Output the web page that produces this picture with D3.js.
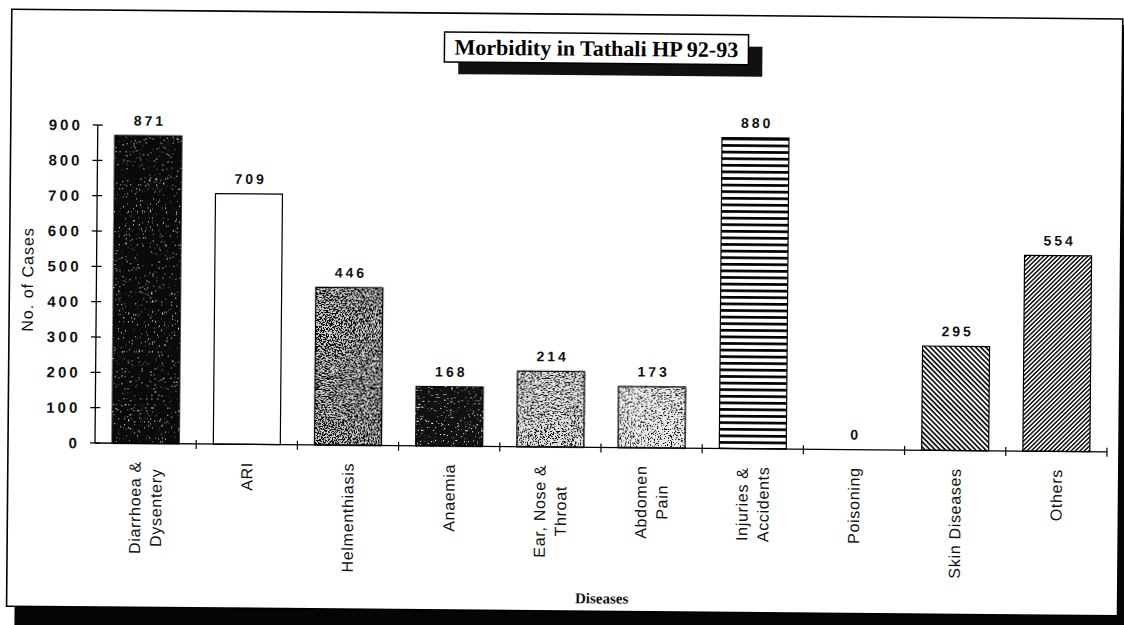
<!DOCTYPE html>
<html>
<head>
<meta charset="utf-8">
<script src="https://cdn.jsdelivr.net/npm/d3@7"></script>
<style>
  html, body { margin: 0; padding: 0; background: #fff; }
  svg { display: block; }
</style>
</head>
<body>
<svg id="chart" width="1124" height="625"></svg>
<script>
// ---------------- data ----------------
const title = "Morbidity in Tathali HP 92-93";
const xTitle = "Diseases";
const yTitle = "No. of Cases";
const categories = [
  "Diarrhoea &\nDysentery",
  "ARI",
  "Helmenthiasis",
  "Anaemia",
  "Ear, Nose &\nThroat",
  "Abdomen\nPain",
  "Injuries &\nAccidents",
  "Poisoning",
  "Skin Diseases",
  "Others"
];
const cases = [871, 709, 446, 168, 214, 173, 880, 0, 295, 554];
const yTicks = [0, 100, 200, 300, 400, 500, 600, 700, 800, 900];

// ---------------- styles (per bar) ----------------
const barFills = ["stipBlack1", "white", "stipDark", "stipBlack2", "stipMid", "stipLight", "hstripe", "white", "hatchBack", "hatchFwd"];

const svg = d3.select("#chart");
const defs = svg.append("defs");

function stipple(id, base, dot, t, freq, seed) {
  const f = defs.append("filter").attr("id", id)
    .attr("x", "-5%").attr("y", "-2%").attr("width", "110%").attr("height", "104%")
    .attr("color-interpolation-filters", "sRGB");
  f.append("feTurbulence").attr("type", "fractalNoise").attr("baseFrequency", freq)
    .attr("numOctaves", 3).attr("seed", seed).attr("result", "n");
  const k = 14;
  f.append("feColorMatrix").attr("in", "n").attr("type", "matrix")
    .attr("values", `0 0 0 0 ${dot} 0 0 0 0 ${dot} 0 0 0 0 ${dot} ${k} 0 0 0 ${-k * t}`)
    .attr("result", "d");
  f.append("feComposite").attr("in", "d").attr("in2", "SourceAlpha").attr("operator", "in").attr("result", "dc");
  const m = f.append("feMerge");
  m.append("feMergeNode").attr("in", "SourceGraphic");
  m.append("feMergeNode").attr("in", "dc");
  return base;
}
const baseColor = {
  stipBlack1: stipple("stipBlack1", "#0a0a0a", 1, 0.70, 0.7, 3),
  stipDark: stipple("stipDark", "#d0d0d0", 0, 0.48, 0.7, 7),
  stipBlack2: stipple("stipBlack2", "#111111", 1, 0.68, 0.7, 11),
  stipMid: stipple("stipMid", "#e2e2e2", 0, 0.54, 0.7, 5),
  stipLight: stipple("stipLight", "#ececec", 0, 0.57, 0.7, 9)
};

// stripe / hatch patterns
const hp = defs.append("pattern").attr("id", "hstripe").attr("patternUnits", "userSpaceOnUse")
  .attr("width", 10).attr("height", 6.6);
hp.append("rect").attr("width", 10).attr("height", 6.6).attr("fill", "#fff");
hp.append("rect").attr("y", 0).attr("width", 10).attr("height", 2.7).attr("fill", "#000");

function hatch(id, angle, period, w) {
  const p = defs.append("pattern").attr("id", id).attr("patternUnits", "userSpaceOnUse")
    .attr("width", 10).attr("height", period).attr("patternTransform", `rotate(${angle})`);
  p.append("rect").attr("width", 10).attr("height", period).attr("fill", "#fff");
  p.append("rect").attr("width", 10).attr("height", w).attr("fill", "#000");
}
hatch("hatchBack", 45, 3.6, 1.6);
hatch("hatchFwd", -45, 3.1, 1.4);

// page group, slightly rotated like the scanned page
const origin = [95, 443];
const page = svg.append("g").attr("transform", `rotate(0.5, ${origin[0]}, ${origin[1]})`);

// frame and shadow
page.append("rect").attr("x", 16).attr("y", 607).attr("width", 1140).attr("height", 40).attr("fill", "#050505");
page.append("rect").attr("x", 1119).attr("y", 16).attr("width", 40).attr("height", 630).attr("fill", "#050505");
page.append("rect").attr("x", 8).attr("y", 10).attr("width", 1111).attr("height", 597)
  .attr("fill", "#fff").attr("stroke", "#000").attr("stroke-width", 1.6);

// scales
const x = d3.scaleBand().domain(categories).range([95, 1107]).paddingInner(0.338).paddingOuter(0.169);
const y = d3.scaleLinear().domain([0, 900]).range([443, 125]);

// title box
page.append("rect").attr("x", 455).attr("y", 41).attr("width", 304).attr("height", 30).attr("fill", "#111");
page.append("rect").attr("x", 441).attr("y", 29).attr("width", 304).attr("height", 30)
  .attr("fill", "#fff").attr("stroke", "#000").attr("stroke-width", 1.5);
page.append("text").attr("x", 593).attr("y", 51.5).attr("text-anchor", "middle")
  .attr("font-family", "'Liberation Serif', 'Times New Roman', serif").attr("font-weight", "bold")
  .attr("font-size", 22).attr("fill", "#000").text(title);

// bars
const bars = page.append("g");
bars.selectAll("rect").data(categories).join("rect")
  .attr("x", d => x(d))
  .attr("y", (d, i) => y(cases[i]))
  .attr("width", x.bandwidth())
  .attr("height", (d, i) => y(0) - y(cases[i]))
  .attr("fill", (d, i) => {
    const f = barFills[i];
    if (baseColor[f]) return baseColor[f];
    if (f === "white") return "#fff";
    return `url(#${f})`;
  })
  .attr("filter", (d, i) => baseColor[barFills[i]] ? `url(#${barFills[i]})` : null)
  .attr("stroke", "#000").attr("stroke-width", (d, i) => cases[i] > 0 ? 1.2 : 0);

// value labels
page.append("g").selectAll("text").data(categories).join("text")
  .attr("x", d => x(d) + x.bandwidth() / 2 + 1.5)
  .attr("y", (d, i) => y(cases[i]) - 10)
  .attr("text-anchor", "middle")
  .attr("font-family", "'Liberation Sans', Arial, sans-serif").attr("font-weight", "bold")
  .attr("font-size", 14).attr("letter-spacing", 3).attr("fill", "#111")
  .text((d, i) => cases[i]);

// y axis
const yAxisG = page.append("g");
yAxisG.append("line").attr("x1", origin[0]).attr("x2", origin[0]).attr("y1", y(900)).attr("y2", y(0))
  .attr("stroke", "#000").attr("stroke-width", 1.3);
yAxisG.selectAll("line.tk").data(yTicks).join("line").attr("class", "tk")
  .attr("x1", origin[0] - 5).attr("x2", origin[0] + 5).attr("y1", d => y(d)).attr("y2", d => y(d))
  .attr("stroke", "#000").attr("stroke-width", 1.2);
yAxisG.selectAll("text").data(yTicks).join("text")
  .attr("x", 77 + 3).attr("y", d => y(d)).attr("dy", "0.36em").attr("text-anchor", "end")
  .attr("font-family", "'Liberation Sans', Arial, sans-serif").attr("font-weight", "bold")
  .attr("font-size", 15).attr("letter-spacing", 3).attr("fill", "#111")
  .text(d => d);

// x axis
const xAxisG = page.append("g");
xAxisG.append("line").attr("x1", origin[0]).attr("x2", 1107).attr("y1", y(0)).attr("y2", y(0))
  .attr("stroke", "#000").attr("stroke-width", 1.3);
const bounds = categories.map(d => x(d) + x.bandwidth() + x.step() * x.paddingInner() / 2);
xAxisG.selectAll("line.tk").data(bounds).join("line").attr("class", "tk")
  .attr("x1", d => d).attr("x2", d => d).attr("y1", y(0) - 4).attr("y2", y(0) + 5)
  .attr("stroke", "#000").attr("stroke-width", 1.2);

// category labels (rotated, lines centred, block top-aligned)
const lh = 21, topY = 461;
categories.forEach(c => {
  const lines = c.split("\n");
  const cx = x(c) + x.bandwidth() / 2;
  const g = xAxisG.append("g");
  const texts = lines.map((ln, j) => g.append("text")
    .attr("font-family", "'Liberation Sans', Arial, sans-serif")
    .attr("font-size", 16).attr("letter-spacing", 0.7).attr("fill", "#111")
    .attr("text-anchor", "middle").text(ln));
  const maxLen = d3.max(texts, t => t.node().getComputedTextLength());
  const cy = topY + maxLen / 2;
  texts.forEach((t, j) => {
    const off = (j - (lines.length - 1) / 2) * lh;
    t.attr("transform", `translate(${cx + off},${cy}) rotate(-90)`)
      .attr("x", 0.35).attr("dy", "0.36em");
  });
});

// axis titles
page.append("text").attr("transform", "translate(26,280) rotate(-90)")
  .attr("text-anchor", "middle").attr("dy", "0.36em")
  .attr("font-family", "'Liberation Sans', Arial, sans-serif")
  .attr("font-size", 16).attr("letter-spacing", 1).attr("fill", "#111").text(yTitle);
page.append("text").attr("x", 603).attr("y", 599).attr("text-anchor", "middle")
  .attr("font-family", "'Liberation Serif', 'Times New Roman', serif").attr("font-weight", "bold")
  .attr("font-size", 15).attr("fill", "#111").text(xTitle);
</script>
</body>
</html>
